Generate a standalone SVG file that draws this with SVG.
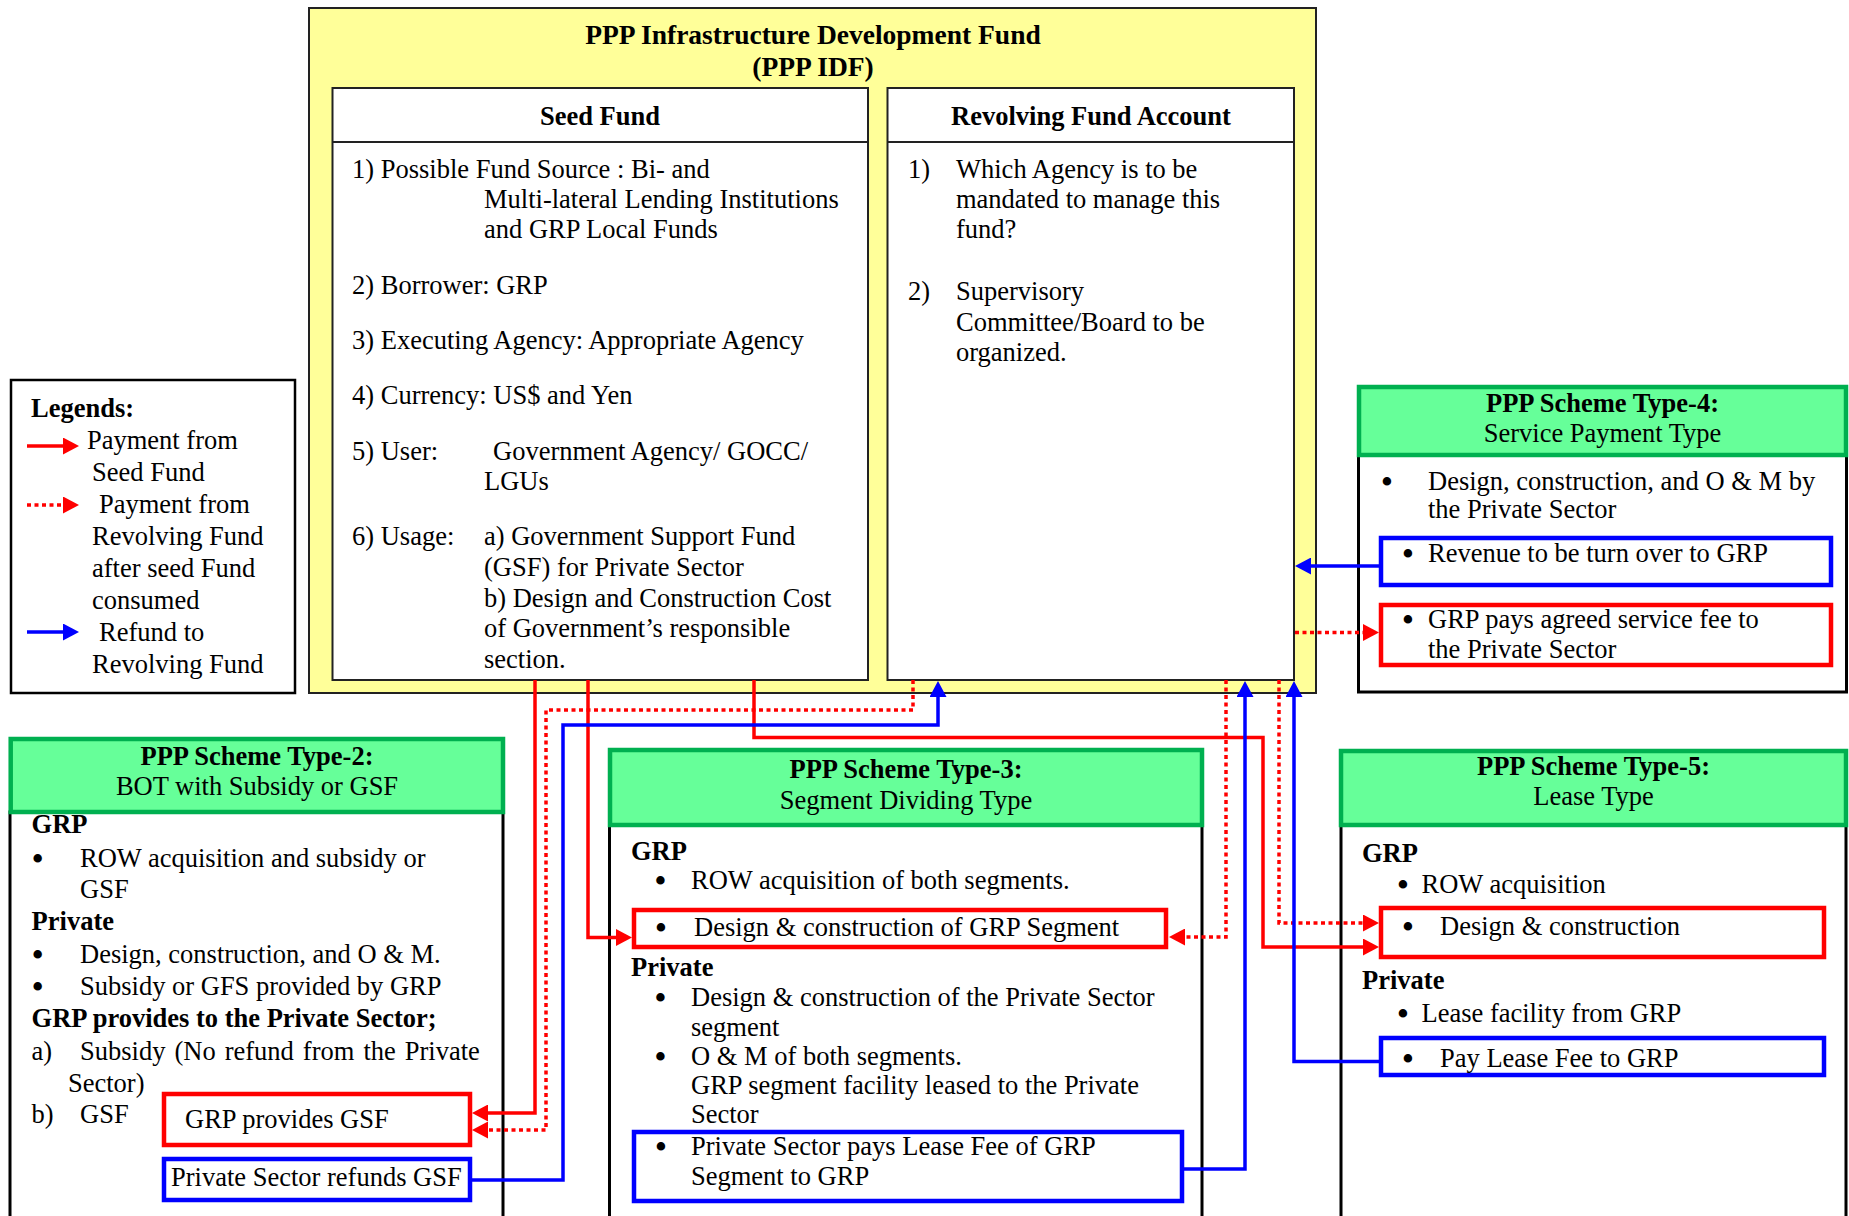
<svg xmlns="http://www.w3.org/2000/svg" width="1849" height="1216" viewBox="0 0 1849 1216">
  <style>
    text { font-family: "Liberation Serif", "Times New Roman", serif; font-size: 26.5px; fill: #000; }
    .b { font-weight: bold; }
    .c { text-anchor: middle; }
    .dot { text-anchor: middle; font-size: 31px; font-weight: bold; }
    .title { font-size: 27.5px; font-weight: bold; }
    .frame { fill: #fff; stroke: #000; stroke-width: 3; }
    .panel { fill: #fff; stroke: #222; stroke-width: 2; }
    .head { fill: #66FF99; stroke: #00B050; stroke-width: 4.5; }
    .rbox { fill: none; stroke: #FF0000; stroke-width: 4.5; }
    .bbox { fill: none; stroke: #0000FF; stroke-width: 4.5; }
    .pay { fill: none; stroke: #FF0000; stroke-width: 3.5; }
    .rev { fill: none; stroke: #FF0000; stroke-width: 3.5; stroke-dasharray: 4 3.5; }
    .ref { fill: none; stroke: #0000FF; stroke-width: 3.5; }
  </style>
  <defs>
    <marker id="ahRed" markerUnits="userSpaceOnUse" markerWidth="16" markerHeight="17" refX="10" refY="8.5" orient="auto">
      <path d="M0,0 L16,8.5 L0,17 Z" fill="#FF0000" stroke="none"/>
    </marker>
    <marker id="ahBlue" markerUnits="userSpaceOnUse" markerWidth="16" markerHeight="17" refX="10" refY="8.5" orient="auto">
      <path d="M0,0 L16,8.5 L0,17 Z" fill="#0000FF" stroke="none"/>
    </marker>
  </defs>

  <rect width="1849" height="1216" fill="#fff"/>

  <!-- PPP Infrastructure Development Fund -->
  <g id="ppp-idf">
    <rect x="309" y="8" width="1007" height="685" fill="#FFFF99" stroke="#222" stroke-width="2"/>
    <text class="title c" x="813" y="44">PPP Infrastructure Development Fund</text>
    <text class="title c" x="813" y="76">(PPP IDF)</text>
  </g>

  <!-- Seed Fund -->
  <g id="seed-fund">
    <rect class="panel" x="332.5" y="88" width="535.5" height="592"/>
    <line x1="332.5" y1="142" x2="868" y2="142" stroke="#222" stroke-width="2"/>
    <text class="b c" x="600" y="125">Seed Fund</text>
    <text x="352" y="178">1) Possible Fund Source : Bi- and</text>
    <text x="484" y="208">Multi-lateral Lending Institutions</text>
    <text x="484" y="238">and GRP Local Funds</text>
    <text x="352" y="294">2) Borrower: GRP</text>
    <text x="352" y="349">3) Executing Agency: Appropriate Agency</text>
    <text x="352" y="404">4) Currency: US$ and Yen</text>
    <text x="352" y="460">5) User:</text>
    <text x="493" y="460">Government Agency/ GOCC/</text>
    <text x="484" y="490">LGUs</text>
    <text x="352" y="545">6) Usage:</text>
    <text x="484" y="545">a) Government Support Fund</text>
    <text x="484" y="576">(GSF) for Private Sector</text>
    <text x="484" y="607">b) Design and Construction Cost</text>
    <text x="484" y="637">of Government’s responsible</text>
    <text x="484" y="668">section.</text>
  </g>

  <!-- Revolving Fund Account -->
  <g id="revolving-fund">
    <rect class="panel" x="887.5" y="88" width="406.5" height="592"/>
    <line x1="887.5" y1="142" x2="1294" y2="142" stroke="#222" stroke-width="2"/>
    <text class="b c" x="1091" y="125">Revolving Fund Account</text>
    <text x="908" y="178">1)</text>
    <text x="956" y="178">Which Agency is to be</text>
    <text x="956" y="208">mandated to manage this</text>
    <text x="956" y="238">fund?</text>
    <text x="908" y="300">2)</text>
    <text x="956" y="300">Supervisory</text>
    <text x="956" y="331">Committee/Board to be</text>
    <text x="956" y="361">organized.</text>
  </g>

  <!-- Legend -->
  <g id="legend">
    <rect x="11" y="380" width="284" height="313" fill="#fff" stroke="#000" stroke-width="2.5"/>
    <text class="b" x="31" y="417">Legends:</text>
    <line class="pay" x1="27" y1="446" x2="73" y2="446" marker-end="url(#ahRed)"/>
    <text x="87" y="449">Payment from</text>
    <text x="92" y="481">Seed Fund</text>
    <line class="rev" x1="27" y1="505" x2="73" y2="505" marker-end="url(#ahRed)"/>
    <text x="99" y="513">Payment from</text>
    <text x="92" y="545">Revolving Fund</text>
    <text x="92" y="577">after seed Fund</text>
    <text x="92" y="609">consumed</text>
    <line class="ref" x1="27" y1="632" x2="73" y2="632" marker-end="url(#ahBlue)"/>
    <text x="99" y="641">Refund to</text>
    <text x="92" y="673">Revolving Fund</text>
  </g>

  <!-- PPP Scheme Type-2 -->
  <g id="scheme-type-2">
    <rect class="frame" x="10" y="812" width="493" height="420"/>
    <rect class="head" x="10.7" y="739" width="492.3" height="73"/>
    <text class="b c" x="257" y="765">PPP Scheme Type-2:</text>
    <text class="c" x="257" y="795">BOT with Subsidy or GSF</text>
    <text class="b" x="31.6" y="833">GRP</text>
    <text class="dot" x="37.6" y="868.5">•</text>
    <text x="80" y="867">ROW acquisition and subsidy or</text>
    <text x="80" y="898">GSF</text>
    <text class="b" x="31.6" y="930">Private</text>
    <text class="dot" x="37.6" y="964.5">•</text>
    <text x="80" y="963">Design, construction, and O &amp; M.</text>
    <text class="dot" x="37.6" y="996.5">•</text>
    <text x="80" y="995">Subsidy or GFS provided by GRP</text>
    <text class="b" x="31.6" y="1027">GRP provides to the Private Sector;</text>
    <text x="31.6" y="1060">a)</text>
    <text x="80" y="1060" word-spacing="2.4">Subsidy (No refund from the Private</text>
    <text x="68" y="1092">Sector)</text>
    <text x="31.6" y="1123">b)</text>
    <text x="80" y="1123">GSF</text>
    <rect class="rbox" x="164" y="1094" width="306" height="51"/>
    <text x="185" y="1128">GRP provides GSF</text>
    <rect class="bbox" x="164" y="1159" width="306" height="41"/>
    <text x="171" y="1186">Private Sector refunds GSF</text>
  </g>

  <!-- PPP Scheme Type-3 -->
  <g id="scheme-type-3">
    <rect class="frame" x="609.5" y="825" width="592.5" height="420"/>
    <rect class="head" x="610" y="750" width="592" height="75"/>
    <text class="b c" x="906" y="778">PPP Scheme Type-3:</text>
    <text class="c" x="906" y="809">Segment Dividing Type</text>
    <text class="b" x="631" y="860">GRP</text>
    <text class="dot" x="660.5" y="890.5">•</text>
    <text x="691" y="889">ROW acquisition of both segments.</text>
    <rect class="rbox" x="634" y="910" width="532" height="37"/>
    <text class="dot" x="661" y="937.5">•</text>
    <text x="694" y="936">Design &amp; construction of GRP Segment</text>
    <text class="b" x="631" y="976">Private</text>
    <text class="dot" x="660.5" y="1007.5">•</text>
    <text x="691" y="1006">Design &amp; construction of the Private Sector</text>
    <text x="691" y="1036">segment</text>
    <text class="dot" x="660.5" y="1066.5">•</text>
    <text x="691" y="1065">O &amp; M of both segments.</text>
    <text x="691" y="1094">GRP segment facility leased to the Private</text>
    <text x="691" y="1123">Sector</text>
    <rect class="bbox" x="634" y="1132" width="548" height="69"/>
    <text class="dot" x="661" y="1156.5">•</text>
    <text x="691" y="1155">Private Sector pays Lease Fee of GRP</text>
    <text x="691" y="1185">Segment to GRP</text>
  </g>

  <!-- PPP Scheme Type-4 -->
  <g id="scheme-type-4">
    <rect class="frame" x="1358.5" y="455" width="488" height="237"/>
    <rect class="head" x="1359" y="387" width="487" height="68"/>
    <text class="b c" x="1602.5" y="412">PPP Scheme Type-4:</text>
    <text class="c" x="1602.5" y="442">Service Payment Type</text>
    <text class="dot" x="1387" y="491.5">•</text>
    <text x="1428" y="490">Design, construction, and O &amp; M by</text>
    <text x="1428" y="518">the Private Sector</text>
    <rect class="bbox" x="1381" y="538" width="450" height="47"/>
    <text class="dot" x="1408" y="563.5">•</text>
    <text x="1428" y="562">Revenue to be turn over to GRP</text>
    <rect class="rbox" x="1381" y="605" width="450" height="60"/>
    <text class="dot" x="1408" y="629.5">•</text>
    <text x="1428" y="628">GRP pays agreed service fee to</text>
    <text x="1428" y="658">the Private Sector</text>
  </g>

  <!-- PPP Scheme Type-5 -->
  <g id="scheme-type-5">
    <rect class="frame" x="1341" y="825" width="505" height="420"/>
    <rect class="head" x="1341" y="751" width="505" height="74"/>
    <text class="b c" x="1593.5" y="775">PPP Scheme Type-5:</text>
    <text class="c" x="1593.5" y="805">Lease Type</text>
    <text class="b" x="1362" y="862">GRP</text>
    <text class="dot" x="1403" y="894.5">•</text>
    <text x="1421.5" y="893">ROW acquisition</text>
    <rect class="rbox" x="1381" y="908" width="443" height="49"/>
    <text class="dot" x="1408" y="936.5">•</text>
    <text x="1440" y="935">Design &amp; construction</text>
    <text class="b" x="1362" y="989">Private</text>
    <text class="dot" x="1403" y="1023.5">•</text>
    <text x="1421.5" y="1022">Lease facility from GRP</text>
    <rect class="bbox" x="1381" y="1038" width="443" height="37"/>
    <text class="dot" x="1408" y="1068.5">•</text>
    <text x="1440" y="1067">Pay Lease Fee to GRP</text>
  </g>

  <!-- Fund flows -->
  <g id="connectors">
    <!-- seed fund payments -->
    <path class="pay" d="M535,680 V1113 H478" marker-end="url(#ahRed)"/>
    <path class="pay" d="M588,680 V937.5 H626" marker-end="url(#ahRed)"/>
    <path class="pay" d="M754,680 V737.5 H1263 V947 H1373" marker-end="url(#ahRed)"/>
    <!-- revolving fund payments -->
    <path class="rev" d="M913,680 V710 H546 V1130 H478" marker-end="url(#ahRed)"/>
    <path class="rev" d="M1226,680 V937 H1175" marker-end="url(#ahRed)"/>
    <path class="rev" d="M1279,680 V923 H1373" marker-end="url(#ahRed)"/>
    <path class="rev" d="M1295,632.5 H1373" marker-end="url(#ahRed)"/>
    <!-- refunds to the revolving fund -->
    <path class="ref" d="M472,1180 H563 V725 H938 V687" marker-end="url(#ahBlue)"/>
    <path class="ref" d="M1184,1169 H1245 V687" marker-end="url(#ahBlue)"/>
    <path class="ref" d="M1379,1061.5 H1294 V687" marker-end="url(#ahBlue)"/>
    <path class="ref" d="M1379,566 H1301" marker-end="url(#ahBlue)"/>
  </g>
</svg>
